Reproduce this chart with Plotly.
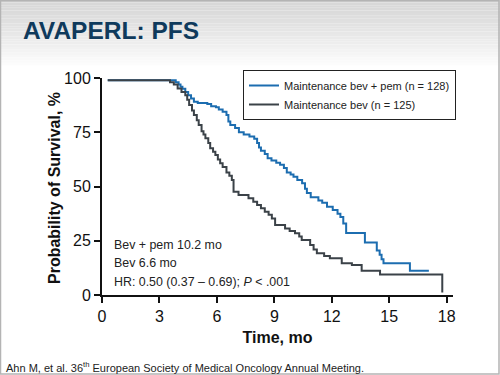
import plotly.graph_objects as go

# ---- data ----
pem_t = [0.3, 3.7, 3.85, 4.0, 4.1, 4.2, 4.35, 4.5, 4.65, 4.8, 5.0, 5.5, 5.7, 5.95, 6.1, 6.3, 6.5,
         6.6, 6.7, 6.95, 7.15, 7.4, 7.7, 7.95, 8.1, 8.2, 8.3, 8.5, 8.65, 8.85, 9.1, 9.3, 9.5,
         9.65, 9.85, 10.0, 10.2, 10.45, 10.6, 10.7, 10.9, 11.3, 11.5, 11.75, 12.05, 12.3, 12.45,
         12.6, 12.75, 13.73, 14.35, 14.5, 14.6, 14.7, 16.08, 17.07]
pem_s = [99, 99, 98, 97, 96, 95, 93.5, 92, 90.5, 89, 88.5, 88, 87, 86.5, 85.5, 84.5, 83,
         80, 78.3, 77, 75, 74, 73, 72, 70, 68, 66.5, 65, 63, 62, 61, 60, 58.5,
         56.5, 55.5, 54.5, 53, 51.5, 49, 47, 45, 43.5, 42.5, 40.7, 39.2, 37.5, 36,
         33, 28.6, 24.2, 20.5, 18.5, 16.5, 14.6, 11.2, 11.2]

bev_t = [0.3, 3.45, 3.55, 3.75, 3.95, 4.15, 4.35, 4.45, 4.55, 4.7, 4.8, 4.95, 5.05, 5.2, 5.3,
         5.4, 5.55, 5.65, 5.8, 5.92, 6.05, 6.17, 6.3, 6.5, 6.65, 6.78, 6.87, 7.13, 7.65, 7.9,
         8.1, 8.3, 8.5, 8.7, 8.87, 9.04, 9.56, 9.8, 10.08, 10.3, 10.43, 10.87, 11.05, 11.22,
         11.6, 11.9, 12.52, 13.05, 13.56, 14.52, 17.77, 17.77]
bev_s = [99, 99, 98, 97, 95.2, 93.5, 92, 90, 87.6, 85, 82.9, 80.5, 78.3, 75.5, 74,
         72.2, 70, 67.6, 66, 64.5, 62.5, 60.7, 59, 56.5, 55, 53, 47.6, 46.1, 44.6, 43,
         41.5, 40, 38.4, 37, 35.3, 32.3, 30.7, 29.5, 28.4, 27, 25.3, 23, 21, 19.2,
         18, 16.9, 14.6, 13.8, 11.2, 9.5, 9.5, 1.2]

series_names = ["Maintenance bev + pem (n = 128)", "Maintenance bev (n = 125)"]
x_ticks = [0, 3, 6, 9, 12, 15, 18]
y_ticks = [0, 25, 50, 75, 100]
notes = ["Bev + pem 10.2 mo", "Bev 6.6 mo", "HR: 0.50 (0.37 – 0.69); <i>P</i> < .001"]
note_y = [23, 14.6, 6]

# ---- layout geometry ----
W, H = 500, 375
ML, MR, MT, MB = 102, 47, 78, 80
PW, PH = W - ML - MR, H - MT - MB
FONT = "Arial, Liberation Sans, sans-serif"


def px(x):
    return (x - ML) / PW


def py(y):
    return (H - MB - y) / PH


fig = go.Figure()
fig.add_trace(go.Scatter(x=pem_t, y=pem_s, mode="lines", line=dict(color="#1c6db0", width=2, shape="hv"),
                         name=series_names[0]))
fig.add_trace(go.Scatter(x=bev_t, y=bev_s, mode="lines", line=dict(color="#3b4248", width=2, shape="hv"),
                         name=series_names[1]))

shapes = []
# header gradient
n = 26
for i in range(n):
    y0 = i * 68 / n
    y1 = (i + 1) * 68 / n
    g = int(216 + (255 - 216) * (i / (n - 1)) ** 1.3)
    shapes.append(dict(type="rect", xref="paper", yref="paper", x0=px(0), x1=px(W), y0=py(y1), y1=py(y0),
                       fillcolor=f"rgb({g},{g},{g})", line=dict(width=0), layer="below"))
# slide border
shapes.append(dict(type="rect", xref="paper", yref="paper", x0=px(0.5), x1=px(W - 1), y0=py(H - 1), y1=py(0.7),
                   line=dict(color="#b4b4b4", width=1.5), fillcolor="rgba(0,0,0,0)", layer="below"))
# axis overhangs
shapes.append(dict(type="line", xref="paper", yref="y", x0=px(95), x1=px(ML), y0=0, y1=0,
                   line=dict(color="#111", width=2)))
shapes.append(dict(type="line", xref="x", yref="paper", x0=0, x1=0, y0=py(H - MB + 7), y1=0,
                   line=dict(color="#111", width=2)))

annotations = []
for t, yv in zip(notes, note_y):
    annotations.append(dict(x=0.5, y=yv, xref="x", yref="y", text=t, showarrow=False, xanchor="left",
                            yanchor="middle", font=dict(family=FONT, size=12.4, color="#222")))
annotations.append(dict(x=px(21), y=py(30), xref="paper", yref="paper", text="<b>AVAPERL: PFS</b>",
                        showarrow=False, xanchor="left", yanchor="middle",
                        font=dict(family=FONT, size=24.5, color="#0f3a5c")))
annotations.append(dict(x=px(54), y=py(188), xref="paper", yref="paper", text="<b>Probability of Survival, %</b>",
                        showarrow=False, xanchor="center", yanchor="middle", textangle=-90,
                        font=dict(family=FONT, size=16, color="#111")))
annotations.append(dict(x=px(4), y=py(367), xref="paper", yref="paper",
                        text="Ahn M, et al. 36<sup>th</sup> European Society of Medical Oncology Annual Meeting.",
                        showarrow=False, xanchor="left", yanchor="middle",
                        font=dict(family=FONT, size=11, color="#222")))

fig.update_layout(
    width=W, height=H,
    margin=dict(l=ML, r=MR, t=MT, b=MB, pad=0),
    paper_bgcolor="white", plot_bgcolor="rgba(0,0,0,0)",
    font=dict(family=FONT, color="#111"),
    shapes=shapes, annotations=annotations,
    showlegend=True,
    legend=dict(x=px(243), y=py(70), xanchor="left", yanchor="top", bgcolor="white",
                bordercolor="#222", borderwidth=1, font=dict(family=FONT, size=11, color="#222"),
                tracegroupgap=0, itemwidth=30),
    xaxis=dict(range=[0, 18.33], tickvals=x_ticks, ticktext=[str(v) for v in x_ticks], showgrid=False,
               zeroline=False, showline=True, linecolor="#111", linewidth=2, ticks="outside", ticklen=6,
               tickwidth=1.5, tickcolor="#111", tickfont=dict(family=FONT, size=16, color="#111"),
               title=dict(text="<b>Time, mo</b>", font=dict(family=FONT, size=16, color="#111"), standoff=8)),
    yaxis=dict(range=[0, 100], tickvals=y_ticks, ticktext=[str(v) for v in y_ticks], showgrid=False,
               zeroline=False, showline=True, linecolor="#111", linewidth=2, ticks="outside", ticklen=6,
               tickwidth=1.5, tickcolor="#111", tickfont=dict(family=FONT, size=16, color="#111")),
)

fig.write_html("out.html", config={"displayModeBar": False},
               post_script="document.body.style.margin='0';document.body.style.overflow='hidden';")
